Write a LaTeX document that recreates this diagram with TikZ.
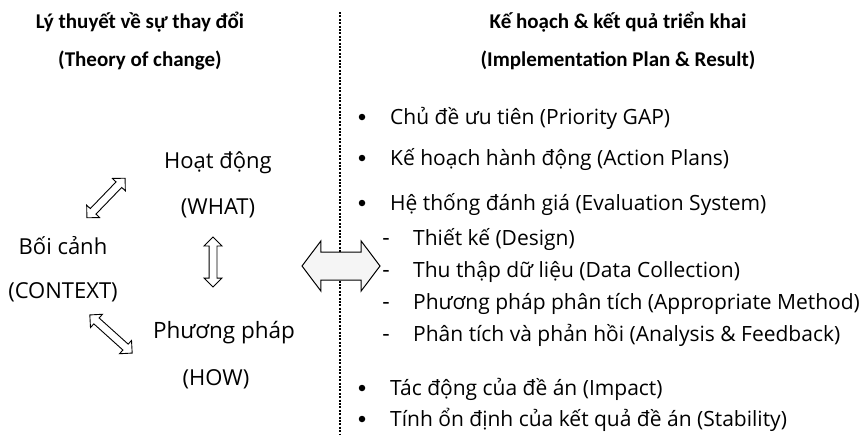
\documentclass[tikz,border=0pt]{standalone}
\usepackage{fontspec}
\setmainfont{Open Sans}
\newfontfamily\hdfont{Carlito}
\usetikzlibrary{shapes.arrows}
\tikzset{
  hd/.style={font=\hdfont\bfseries\fontsize{21}{24}\selectfont, inner sep=0pt},
  lt/.style={font=\fontsize{#1}{24}\selectfont, inner sep=0pt},
  lt/.default=22,
  rt/.style={font=\fontsize{#1}{24}\selectfont, inner sep=0pt, anchor=base west},
  rt/.default=21,
  bul/.style={fill=black, circle, inner sep=0pt, minimum size=6.5pt},
  dsh/.style={font=\fontsize{23}{24}\selectfont, inner sep=0pt, anchor=base},
  smallarr/.style={double arrow, draw=black, fill=white, line width=0.9pt,
    inner xsep=0pt, inner ysep=3.5pt,
    minimum width=17pt, minimum height=#1, double arrow head extend=5pt, double arrow tip angle=90},
  bigarr/.style={double arrow, draw=black, fill=black!4, line width=1pt,
    inner xsep=0pt, inner ysep=13.5pt,
    minimum width=49pt, minimum height=78pt, double arrow head extend=11pt, double arrow tip angle=106},
  sep/.style={line width=1.2pt, dash pattern=on 2pt off 1.4pt}
}
\begin{document}
\begin{tikzpicture}[x=1pt,y=-1pt]
\useasboundingbox (0,0) rectangle (861,434);
% headers
\node[hd] (h1) at (140,22) {Lý thuyết về sự thay đổi};
\node[hd] (h2) at (140,60) {(Theory of change)};
\node[hd] (h3) at (618,22) {Kế hoạch \& kết quả triển khai};
\node[hd] (h4) at (618,60) {(Implementation Plan \& Result)};
% separator
\coordinate (s1) at (340,12);
\coordinate (s2) at (340,434);
\draw[sep] (s1) -- (s2);
% left texts
\node[lt] (what1) at (218,163) {Hoạt động};
\node[lt] (what2) at (218,208) {(WHAT)};
\node[lt] (ctx1) at (63,246) {Bối cảnh};
\node[lt] (ctx2) at (63,292) {(CONTEXT)};
\node[lt=22.5] (how1) at (224,333) {Phương pháp};
\node[lt] (how2) at (216,379) {(HOW)};
% arrows
\node[smallarr=55pt, rotate=46] (a1) at (106,198) {};
\node[smallarr=50pt, rotate=90] (a2) at (213,262) {};
\node[smallarr=57pt, rotate=-42] (a3) at (111,334) {};
\node[bigarr] (a4) at (341,266) {};
% right list
\node[bul] (b1) at (362,117) {};
\node[rt] (t1) at (390,124) {Chủ đề ưu tiên (Priority GAP)};
\node[bul] (b2) at (362,158) {};
\node[rt] (t2) at (390,165) {Kế hoạch hành động (Action Plans)};
\node[bul] (b3) at (362,203) {};
\node[rt] (t3) at (390,210) {Hệ thống đánh giá (Evaluation System)};
\node[dsh] (d1) at (386,245) {-};
\node[rt] (s1t) at (413,245) {Thiết kế (Design)};
\node[dsh] (d2) at (386,277) {-};
\node[rt] (s2t) at (413,277) {Thu thập dữ liệu (Data Collection)};
\node[dsh] (d3) at (386,309) {-};
\node[rt] (s3t) at (413,309) {Phương pháp phân tích (Appropriate Method)};
\node[dsh] (d4) at (386,341) {-};
\node[rt] (s4t) at (413,341) {Phân tích và phản hồi (Analysis \& Feedback)};
\node[bul] (b4) at (362,388) {};
\node[rt] (t4) at (390,395) {Tác động của đề án (Impact)};
\node[bul] (b5) at (362,419) {};
\node[rt] (t5) at (390,426) {Tính ổn định của kết quả đề án (Stability)};
\end{tikzpicture}
\end{document}
